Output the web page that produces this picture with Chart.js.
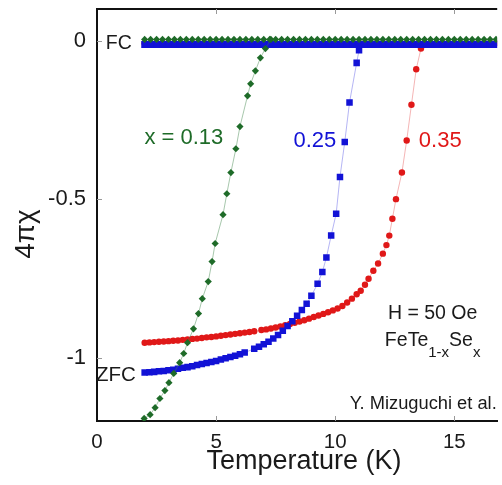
<!DOCTYPE html>
<html>
<head>
<meta charset="utf-8">
<script src="https://cdn.jsdelivr.net/npm/chart.js@4.4.0/dist/chart.umd.min.js"></script>
<style>
  html, body { margin: 0; padding: 0; background: #fff; }
  canvas { display: block; }
</style>
</head>
<body>
<canvas id="grafico" width="502" height="485"></canvas>
<script>
// tick labels
var xTicks = [0, 5, 10, 15];
var yTicks = [0, -0.5, -1];

// field-cooled branch (all three samples sit on ~0)
var fcTemps = [2.0, 2.25, 2.5, 2.75, 3.0, 3.25, 3.5, 3.75, 4.0, 4.25, 4.5, 4.75, 5.0, 5.25, 5.5, 5.75,
  6.0, 6.25, 6.5, 6.75, 7.0, 7.25, 7.5, 7.75, 8.0, 8.25, 8.5, 8.75, 9.0, 9.25, 9.5, 9.75,
  10.0, 10.25, 10.5, 10.75, 11.0, 11.25, 11.5, 11.75, 12.0, 12.25, 12.5, 12.75, 13.0, 13.25,
  13.5, 13.75, 14.0, 14.25, 14.5, 14.75, 15.0, 15.25, 15.5, 15.75, 16.0, 16.25, 16.5, 16.75];
var fcGreen = [0.004, 0.004, 0.004, 0.004, 0.004, 0.004, 0.004, 0.004, 0.004, 0.004, 0.004, 0.004,
  0.004, 0.004, 0.004, 0.004, 0.004, 0.004, 0.004, 0.004, 0.004, 0.004, 0.004, 0.004,
  0.004, 0.004, 0.004, 0.004, 0.004, 0.004, 0.004, 0.004, 0.004, 0.004, 0.004, 0.004,
  0.004, 0.004, 0.004, 0.004, 0.004, 0.004, 0.004, 0.004, 0.004, 0.004, 0.004, 0.004,
  0.004, 0.004, 0.004, 0.004, 0.004, 0.004, 0.004, 0.004, 0.004, 0.004, 0.004, 0.004];
var fcBlue = [-0.012, -0.012, -0.012, -0.012, -0.012, -0.012, -0.012, -0.012, -0.012, -0.012,
  -0.012, -0.012, -0.012, -0.012, -0.012, -0.012, -0.012, -0.012, -0.012, -0.012,
  -0.012, -0.012, -0.012, -0.012, -0.012, -0.012, -0.012, -0.012, -0.012, -0.012,
  -0.012, -0.012, -0.012, -0.012, -0.012, -0.012, -0.012, -0.012, -0.012, -0.012,
  -0.012, -0.012, -0.012, -0.012, -0.012, -0.012, -0.012, -0.012, -0.012, -0.012,
  -0.012, -0.012, -0.012, -0.012, -0.012, -0.012, -0.012, -0.012, -0.012, -0.012];
var fcRed = [-0.008, -0.008, -0.008, -0.008, -0.008, -0.008, -0.008, -0.008, -0.008, -0.008,
  -0.008, -0.008, -0.008, -0.008, -0.008, -0.008, -0.008, -0.008, -0.008, -0.008,
  -0.008, -0.008, -0.008, -0.008, -0.008, -0.008, -0.008, -0.008, -0.008, -0.008,
  -0.008, -0.008, -0.008, -0.008, -0.008, -0.008, -0.008, -0.008, -0.008, -0.008,
  -0.008, -0.008, -0.008, -0.008, -0.008, -0.008, -0.008, -0.008, -0.008, -0.008,
  -0.008, -0.008, -0.008, -0.008, -0.008, -0.008, -0.008, -0.008, -0.008, -0.008];

// zero-field-cooled, x = 0.13
var zfcGreenT = [1.98, 2.23, 2.44, 2.64, 2.85, 3.02, 3.22, 3.47, 3.64, 3.80, 4.05, 4.26, 4.42,
  4.67, 4.83, 4.96, 5.29, 5.45, 5.62, 5.83, 6.0, 6.32, 6.45, 6.65, 6.86, 7.07, 7.3];
var zfcGreen = [-1.192, -1.180, -1.158, -1.129, -1.104, -1.079, -1.050, -1.016, -0.987, -0.953,
  -0.909, -0.861, -0.814, -0.760, -0.697, -0.640, -0.549, -0.483, -0.416, -0.341, -0.271,
  -0.174, -0.136, -0.095, -0.054, -0.025, 0.004];

// zero-field-cooled, x = 0.25
var zfcBlueT = [2.0, 2.2, 2.4, 2.6, 2.8, 3.0, 3.2, 3.4, 3.6, 3.8, 4.0, 4.2, 4.4, 4.6, 4.8, 5.0,
  5.2, 5.4, 5.6, 5.8, 6.0, 6.2, 6.6, 6.8, 7.0, 7.2, 7.4, 7.6, 7.8, 8.0, 8.2, 8.4, 8.6, 8.8,
  9.0, 9.26, 9.46, 9.63, 9.83, 10.04, 10.2, 10.4, 10.6, 10.9, 11.0, 11.15];
var zfcBlue = [-1.047, -1.046, -1.045, -1.043, -1.042, -1.040, -1.038, -1.035, -1.032, -1.030,
  -1.027, -1.023, -1.020, -1.017, -1.014, -1.011, -1.006, -1.002, -0.998, -0.994, -0.989,
  -0.984, -0.972, -0.966, -0.958, -0.950, -0.940, -0.929, -0.915, -0.900, -0.885, -0.868,
  -0.850, -0.830, -0.805, -0.767, -0.730, -0.684, -0.615, -0.546, -0.430, -0.320, -0.195,
  -0.070, -0.030, -0.012];

// zero-field-cooled, x = 0.35
var zfcRedT = [2.0, 2.2, 2.4, 2.6, 2.8, 3.0, 3.2, 3.4, 3.6, 3.8, 4.0, 4.2, 4.4, 4.6, 4.8, 5.0,
  5.2, 5.4, 5.6, 5.8, 6.0, 6.2, 6.4, 6.6, 6.9, 7.1, 7.3, 7.5, 7.7, 7.9, 8.1, 8.3, 8.5, 8.7,
  8.9, 9.1, 9.3, 9.5, 9.7, 9.9, 10.1, 10.3, 10.5, 10.7, 10.9, 11.07, 11.25, 11.4, 11.6, 11.8,
  12.0, 12.15, 12.27, 12.4, 12.55, 12.8, 13.0, 13.2, 13.4, 13.6, 13.75];
var zfcRed = [-0.953, -0.952, -0.951, -0.950, -0.949, -0.948, -0.947, -0.946, -0.944, -0.943,
  -0.941, -0.940, -0.938, -0.936, -0.935, -0.933, -0.931, -0.929, -0.927, -0.925, -0.923,
  -0.921, -0.919, -0.917, -0.913, -0.911, -0.908, -0.905, -0.902, -0.898, -0.894, -0.890,
  -0.886, -0.882, -0.877, -0.872, -0.867, -0.862, -0.857, -0.851, -0.845, -0.837, -0.826,
  -0.814, -0.800, -0.789, -0.770, -0.751, -0.726, -0.703, -0.672, -0.645, -0.615, -0.562,
  -0.500, -0.416, -0.315, -0.202, -0.090, -0.025, -0.008];

var FONT = '"Liberation Sans", Arial, sans-serif';
var GREEN = "#1e6b28", BLUE = "#1212d6", RED = "#e01818";

function puntos(ts, vs) {
  return ts.map(function (t, i) { return { x: t, y: vs[i] }; });
}

function serie(ts, vs, color, linea, forma, radio, orden) {
  return {
    data: puntos(ts, vs),
    showLine: true,
    borderColor: linea,
    borderWidth: 1,
    backgroundColor: color,
    pointBorderWidth: 0,
    pointStyle: forma,
    pointRadius: radio,
    order: orden
  };
}

// texts, inner ticks and the top frame line
var anotaciones = {
  id: "anotaciones",
  afterDraw: function (chart) {
    var ctx = chart.ctx, a = chart.chartArea, xs = chart.scales.x, ys = chart.scales.y;
    function px(t) { return xs.getPixelForValue(t); }
    function py(v) { return ys.getPixelForValue(v); }
    ctx.save();
    ctx.strokeStyle = "#111";
    ctx.lineWidth = 2;
    ctx.beginPath();
    ctx.moveTo(a.left - 1, a.top);
    ctx.lineTo(a.right, a.top);
    ctx.stroke();

    ctx.strokeStyle = "#999";
    ctx.lineWidth = 1;
    xTicks.forEach(function (t) {
      if (t === 0) return;
      var x = Math.round(px(t)) + 0.5;
      ctx.beginPath();
      ctx.moveTo(x, a.top); ctx.lineTo(x, a.top + 5);
      ctx.moveTo(x, a.bottom); ctx.lineTo(x, a.bottom - 5);
      ctx.stroke();
    });
    yTicks.forEach(function (v) {
      var y = Math.round(py(v)) + 0.5;
      ctx.beginPath();
      ctx.moveTo(a.left, y); ctx.lineTo(a.left + 5, y);
      ctx.stroke();
    });

    ctx.textBaseline = "alphabetic";
    ctx.textAlign = "left";
    ctx.fillStyle = "#1a1a1a";
    ctx.font = "19.5px " + FONT;
    ctx.fillText("FC", px(0.37), py(-0.025));
    ctx.font = "20.5px " + FONT;
    ctx.fillText("ZFC", px(-0.04), py(-1.073));
    ctx.font = "22px " + FONT;
    ctx.fillStyle = GREEN;
    ctx.fillText("x = 0.13", px(1.99), py(-0.325));
    ctx.fillStyle = BLUE;
    ctx.fillText("0.25", px(8.25), py(-0.334));
    ctx.fillStyle = RED;
    ctx.fillText("0.35", px(13.51), py(-0.334));

    ctx.fillStyle = "#1a1a1a";
    ctx.textAlign = "center";
    ctx.font = "19.5px " + FONT;
    ctx.fillText("H = 50 Oe", px(14.09), py(-0.877));

    // FeTe(1-x)Se(x) with subscripts
    var partes = [["FeTe", 19.5, 0], ["1-x", 15, 11], ["Se", 19.5, 0], ["x", 15, 11]];
    var ancho = 0;
    partes.forEach(function (p) { ctx.font = p[1] + "px " + FONT; ancho += ctx.measureText(p[0]).width; });
    var x0 = px(14.09) - ancho / 2, yb = py(-0.962);
    ctx.textAlign = "left";
    partes.forEach(function (p) {
      ctx.font = p[1] + "px " + FONT;
      ctx.fillText(p[0], x0, yb + p[2]);
      x0 += ctx.measureText(p[0]).width;
    });

    ctx.textAlign = "right";
    ctx.font = "18.3px " + FONT;
    ctx.fillText("Y. Mizuguchi et al.", px(16.78), py(-1.161));

    // axis titles
    ctx.textAlign = "center";
    ctx.font = "27px " + FONT;
    ctx.fillText("Temperature (K)", 304, 469);
    ctx.translate(34, 234);
    ctx.rotate(-Math.PI / 2);
    ctx.font = "28px " + FONT;
    ctx.fillText("4\u03c0\u03c7", 0, 0);
    ctx.restore();
  }
};

function cargaGrafico() {
  "use strict";
  var lienzo = document.getElementById("grafico").getContext("2d");
  new Chart(lienzo, {
    type: "scatter",
    data: {
      datasets: [
        serie(fcTemps, fcGreen, GREEN, "rgba(60,130,70,0.5)", "rectRot", 3.6, 1),
        serie(zfcGreenT, zfcGreen, GREEN, "rgba(60,130,70,0.45)", "rectRot", 3.6, 2),
        serie(fcTemps, fcBlue, BLUE, "rgba(90,90,230,0.5)", "rect", 4.8, 3),
        serie(zfcBlueT, zfcBlue, BLUE, "rgba(90,90,230,0.45)", "rect", 4.6, 4),
        serie(fcTemps, fcRed, RED, "rgba(230,90,90,0.5)", "circle", 3.2, 5),
        serie(zfcRedT, zfcRed, RED, "rgba(230,90,90,0.45)", "circle", 3.2, 6)
      ]
    },
    options: {
      responsive: false,
      animation: false,
      devicePixelRatio: 1,
      layout: { padding: { top: 9, right: 0, left: 0, bottom: 0 } },
      plugins: { legend: { display: false }, tooltip: { enabled: false } },
      scales: {
        x: {
          type: "linear",
          min: 0,
          max: 16.8,
          afterBuildTicks: function (s) { s.ticks = xTicks.map(function (v) { return { value: v }; }); },
          afterFit: function (s) { s.height = 64; s.paddingLeft = 0; s.paddingRight = 0; },
          grid: { display: false, drawTicks: false },
          border: { display: true, color: "#111", width: 2 },
          ticks: { color: "#1a1a1a", padding: 9, font: { family: FONT, size: 20.5 } }
        },
        y: {
          type: "linear",
          min: -1.2,
          max: 0.1,
          afterBuildTicks: function (s) { s.ticks = yTicks.map(function (v) { return { value: v }; }); },
          afterFit: function (s) { s.width = 97; s.paddingTop = 0; s.paddingBottom = 0; },
          grid: { display: false, drawTicks: false },
          border: { display: true, color: "#111", width: 2 },
          ticks: {
            color: "#1a1a1a", padding: 11, font: { family: FONT, size: 22 },
            callback: function (v) { return String(v); }
          }
        }
      }
    },
    plugins: [anotaciones]
  });
}

window.onload = cargaGrafico;
</script>
</body>
</html>
